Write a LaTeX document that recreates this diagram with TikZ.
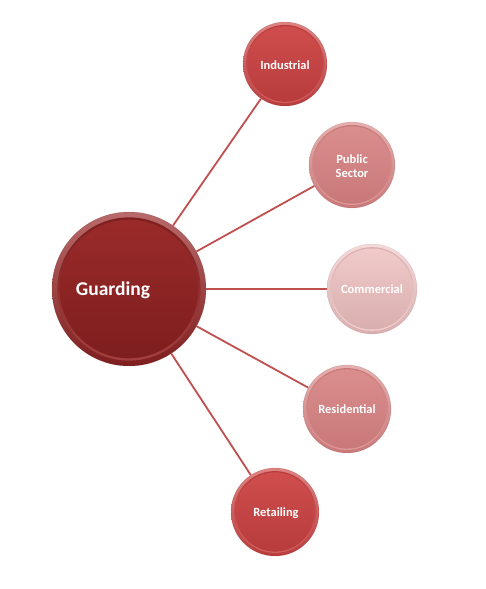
\documentclass[tikz,border=0pt]{standalone}
\usepackage{fontspec}
\setmainfont{Carlito}
\definecolor{linecol}{HTML}{C0504D}
\definecolor{cDark}{HTML}{9A2A2A}
\definecolor{cDarkB}{HTML}{7E1E1E}
\definecolor{cMid}{HTML}{CF4D4D}
\definecolor{cMidB}{HTML}{B83C3C}
\definecolor{cPale}{HTML}{DB8E8E}
\definecolor{cPaleB}{HTML}{C87878}
\definecolor{cLight}{HTML}{F0CACA}
\definecolor{cLightB}{HTML}{D9AEAE}
\begin{document}
\begin{tikzpicture}[x=1pt,y=-1pt,
  bubble/.style={circle,inner sep=0pt,text=white,font=\bfseries,align=center},
  conn/.style={draw=linecol,line width=1.8pt},
  small/.style={text=white,font=\bfseries\fontsize{12.5}{14}\selectfont,align=center}]
\useasboundingbox (0,0) rectangle (485,589);
\newcommand{\mybutton}[6]{%
  \shade[top color=#5!70!white,bottom color=#6] (#2,#3) circle[radius=#4];
  \shade[top color=#6,bottom color=#5!90!white] (#2,#3) circle[radius=#4*0.93];
  \shade[top color=#5,bottom color=#6] (#2,#3) circle[radius=#4*0.90];
  \draw[#6!85!black,line width=0.4pt,opacity=0.35] (#2,#3) circle[radius=#4];
  \node[bubble,minimum size=2*#4] (#1) at (#2,#3) {};
}
\mybutton{g}{129}{289}{77}{cDark}{cDarkB}
\mybutton{ind}{285}{64}{42}{cMid}{cMidB}
\mybutton{pub}{352}{165}{43}{cPale}{cPaleB}
\mybutton{com}{372}{289}{45}{cLight}{cLightB}
\mybutton{res}{347}{409}{44}{cPale}{cPaleB}
\mybutton{ret}{275}{512}{44}{cMid}{cMidB}
\draw[conn] (g) -- (ind);
\draw[conn] (g) -- (pub);
\draw[conn] (g) -- (com);
\draw[conn] (g) -- (res);
\draw[conn] (g) -- (ret);
\node[text=white,font=\bfseries\fontsize{19.5}{22}\selectfont] (tg) at (113,290) {Guarding};
\node[small] (ti) at (285,65) {Industrial};
\node[small] (tp) at (352,166) {Public\\Sector};
\node[small] (tc) at (372,289) {Commercial};
\node[small] (tr) at (347,409) {Residential};
\node[small] (tt) at (276,513) {Retailing};
\end{tikzpicture}
\end{document}
